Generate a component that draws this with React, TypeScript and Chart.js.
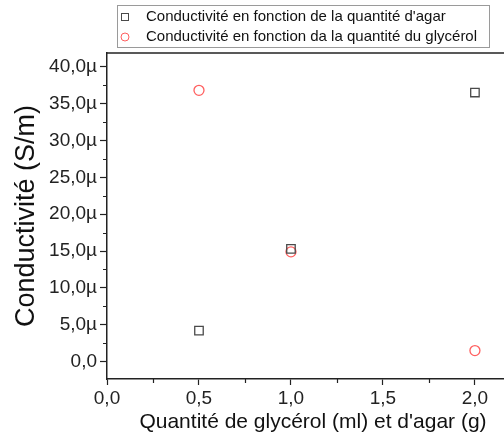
import React, { useEffect, useRef } from 'react';
import { Chart, registerables } from 'chart.js';

Chart.register(...registerables);

// Values in µS/m
const agarX = [0.5, 1.0, 2.0];
const agarY = [4.2, 15.3, 36.5];
const glyX = [0.5, 1.0, 2.0];
const glyY = [36.8, 14.9, 1.5];

const yMajor = [0, 5, 10, 15, 20, 25, 30, 35, 40];
const yMinor = [2.5, 7.5, 12.5, 17.5, 22.5, 27.5, 32.5, 37.5];
const xMajor = [0, 0.5, 1.0, 1.5, 2.0];
const xMinor = [0.25, 0.75, 1.25, 1.75];

const legendLabels = [
  "Conductivité en fonction de la quantité d'agar",
  'Conductivité en fonction da la quantité du glycérol',
];
const xTitle = "Quantité de glycérol (ml) et d'agar (g)";
const yTitle = 'Conductivité (S/m)';

const FONT = '"Liberation Sans", Arial, sans-serif';
const SQUARE_COLOR = '#4a4a4a';
const CIRCLE_COLOR = '#ff5f5f';

const fmt = (v: number) => v.toFixed(1).replace('.', ',');

const extras = {
  id: 'extras',
  afterDraw(chart: any) {
    const ctx = chart.ctx;
    const { left, top, right, bottom } = chart.chartArea;
    const xs = chart.scales.x;
    const ys = chart.scales.y;
    ctx.save();
    ctx.strokeStyle = '#222';
    ctx.lineWidth = 1.5;
    ctx.beginPath();
    ctx.moveTo(left - 1, top);
    ctx.lineTo(right, top);
    ctx.stroke();
    ctx.lineWidth = 1.2;
    ctx.beginPath();
    yMinor.forEach((v) => {
      const y = Math.round(ys.getPixelForValue(v)) + 0.5;
      ctx.moveTo(left - 4, y);
      ctx.lineTo(left, y);
    });
    xMinor.forEach((v) => {
      const x = Math.round(xs.getPixelForValue(v)) + 0.5;
      ctx.moveTo(x, bottom);
      ctx.lineTo(x, bottom + 4);
    });
    ctx.stroke();

    // x axis title
    ctx.font = `21px ${FONT}`;
    ctx.fillStyle = '#111';
    ctx.textAlign = 'center';
    ctx.textBaseline = 'middle';
    ctx.fillText(xTitle, 313, 422);

    // legend box
    ctx.textAlign = 'left';
    ctx.strokeStyle = '#9a9a9a';
    ctx.lineWidth = 1;
    ctx.strokeRect(117.5, 5.5, 372, 42);
    ctx.font = `15px ${FONT}`;
    ctx.fillStyle = '#111';
    const rows = [17, 37];
    ctx.strokeStyle = SQUARE_COLOR;
    ctx.lineWidth = 1;
    ctx.strokeRect(121.5, rows[0] - 3.5, 7, 7);
    ctx.strokeStyle = CIRCLE_COLOR;
    ctx.beginPath();
    ctx.arc(125, rows[1], 4, 0, Math.PI * 2);
    ctx.stroke();
    ctx.fillText(legendLabels[0], 146, rows[0]);
    ctx.fillText(legendLabels[1], 146, rows[1]);
    ctx.restore();
  },
};

export default function App() {
  const ref = useRef<HTMLCanvasElement>(null);
  useEffect(() => {
    if (!ref.current) return;
    const chart = new Chart(ref.current, {
      type: 'scatter',
      data: {
        datasets: [
          {
            label: legendLabels[0],
            data: agarX.map((x, i) => ({ x, y: agarY[i] })),
            pointStyle: 'rect',
            pointRadius: 6,
            borderColor: SQUARE_COLOR,
            backgroundColor: 'rgba(0,0,0,0)',
            borderWidth: 1.3,
          },
          {
            label: legendLabels[1],
            data: glyX.map((x, i) => ({ x, y: glyY[i] })),
            pointStyle: 'circle',
            pointRadius: 5,
            borderColor: CIRCLE_COLOR,
            backgroundColor: 'rgba(0,0,0,0)',
            borderWidth: 1.3,
          },
        ],
      },
      options: {
        responsive: false,
        animation: false,
        layout: { autoPadding: false, padding: { top: 53, left: 0, right: 0, bottom: 0 } },
        plugins: { legend: { display: false }, tooltip: { enabled: false } },
        scales: {
          x: {
            type: 'linear',
            min: 0,
            max: 2.158,
            afterBuildTicks: (s: any) => {
              s.ticks = xMajor.map((v) => ({ value: v }));
            },
            afterFit: (s: any) => {
              s.height = 60;
              s.paddingRight = 0;
              s.paddingLeft = 0;
            },
            grid: { drawOnChartArea: false, drawTicks: true, tickLength: 6, tickColor: '#222', tickWidth: 1.2 },
            border: { display: true, color: '#222', width: 1.5 },
            ticks: {
              color: '#222',
              font: { family: FONT, size: 19 },
              padding: 2,
              maxRotation: 0,
              autoSkip: false,
              callback: (v: any) => fmt(Number(v)),
            },
            title: { display: false, text: xTitle },
          },
          y: {
            type: 'linear',
            min: -2.35,
            max: 41.86,
            afterBuildTicks: (s: any) => {
              s.ticks = yMajor.map((v) => ({ value: v }));
            },
            afterFit: (s: any) => {
              s.width = 107;
              s.paddingTop = 0;
              s.paddingBottom = 0;
            },
            grid: { drawOnChartArea: false, drawTicks: true, tickLength: 7, tickColor: '#222', tickWidth: 1.2 },
            border: { display: true, color: '#222', width: 1.5 },
            ticks: {
              color: '#222',
              font: { family: FONT, size: 19 },
              padding: 3,
              autoSkip: false,
              callback: (v: any) => (Number(v) === 0 ? '0,0' : fmt(Number(v)) + 'µ'),
            },
            title: {
              display: true,
              text: yTitle,
              color: '#111',
              font: { family: FONT, size: 27 },
              padding: { top: 10, bottom: 0 },
            },
          },
        },
      },
      plugins: [extras],
    });
    return () => chart.destroy();
  }, []);
  return (
    <div style={{ position: 'fixed', left: 0, top: 0, width: 504, height: 439, background: '#fff' }}>
      <canvas ref={ref} width={504} height={439} style={{ display: 'block' }} />
    </div>
  );
}
